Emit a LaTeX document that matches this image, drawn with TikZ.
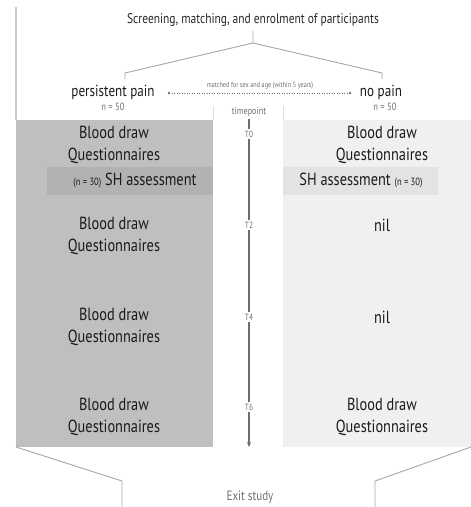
\documentclass[tikz,border=0pt]{standalone}
\usepackage{fontspec}
\setmainfont{PT Sans}[FakeStretch=0.82]
\definecolor{painGrey}{HTML}{BFBFBF}
\definecolor{painBand}{HTML}{B2B2B2}
\definecolor{ctrlGrey}{HTML}{F0F0F0}
\definecolor{ctrlBand}{HTML}{E3E3E3}
\definecolor{lineGrey}{HTML}{A6A6A6}
\definecolor{textMuted}{HTML}{6E6E6E}
\definecolor{textDark}{HTML}{1A1A1A}
\usetikzlibrary{arrows.meta, positioning}

\begin{document}
\begin{tikzpicture}[
    x=1pt, y=-1pt,
    group/.style={align=center, inner sep=0pt, font=\fontsize{17.5}{22.5}\selectfont, text=textDark},
    arm/.style={inner sep=1pt, font=\fontsize{16}{18}\selectfont, text=textDark},
    small/.style={inner sep=1pt, font=\fontsize{10.5}{12}\selectfont, text=textMuted},
    tlabel/.style={inner sep=2pt, font=\fontsize{9}{10}\selectfont, text=textMuted},
    link/.style={draw=lineGrey, line width=0.9pt},
    tline/.style={draw=textMuted, line width=1.4pt},
    arr/.style={-{Stealth[length=5pt, width=4pt]}, tline}
]
\useasboundingbox (0,0) rectangle (471,507);

% Panels
\fill[painGrey] (16,120) rectangle (213,447);
\fill[ctrlGrey] (283,120) rectangle (471,447);
\fill[painBand] (47,167) rectangle (213,195);
\fill[ctrlBand] (283,167) rectangle (438,195);
\draw[draw=black!20, line width=1.2pt] (16,7) -- (16,120);
\draw[draw=black!12] (213,106) -- (213,120) (283,106) -- (283,120);

% Screening
\node[font=\fontsize{14}{16}\selectfont, text=black!85] (title) at (253,20) {Screening, matching, and enrolment of participants};
\coordinate (stem) at (253,43);
\coordinate (forkL) at (125,73);
\coordinate (forkR) at (382,73);
\draw[link] (title.south -| stem) ++(0,1) -- (stem) -- (forkL) -- ++(0,6);
\draw[link] (stem) -- (forkR) -- ++(0,6);

% Groups
\node[arm] (pp) at (113,92) {persistent pain};
\node[arm] (np) at (381,92) {no pain};
\node[small] (ppn) at (113,107) {n = 50};
\node[small] (npn) at (385,107) {n = 50};
\coordinate (dotL) at (169,93);
\coordinate (dotR) at (350,93);
\fill[textMuted] (dotL) circle (1.4pt) (dotR) circle (1.4pt);
\draw[textMuted, dash pattern=on 1pt off 1.5pt, line width=0.5pt] (dotL) -- (dotR);
\node[font=\fontsize{7.5}{9}\selectfont, text=textMuted, inner sep=1pt] (match) at (260,86) {matched for sex and age (within 5 years)};

% Timeline
\node[small, font=\fontsize{10}{11}\selectfont] (tp) at (249,112) {timepoint};
\node[tlabel] (t0) at (249,134) {T0};
\node[tlabel] (t2) at (249,225) {T2};
\node[tlabel] (t4) at (249,317) {T4};
\node[tlabel] (t6) at (249,407) {T6};
\coordinate (tend) at (249,447);
\draw[tline] (tp.south) ++(0,1) -- (t0.north);
\draw[tline] (t0.south) -- (t2.north);
\draw[tline] (t2.south) -- (t4.north);
\draw[tline] (t4.south) -- (t6.north);
\draw[arr] (t6.south) -- (tend);

% Persistent pain visits
\node[group] (p0) at (114,145) {Blood draw\\Questionnaires};
\node[group] (psh) at (135,180) {{\fontsize{10.5}{12}\selectfont(n = 30)} SH assessment};
\node[group] (p2) at (114,236) {Blood draw\\Questionnaires};
\node[group] (p4) at (114,327) {Blood draw\\Questionnaires};
\node[group] (p6) at (114,417) {Blood draw\\Questionnaires};

% No pain visits
\node[group] (n0) at (382,145) {Blood draw\\Questionnaires};
\node[group] (nsh) at (361,180) {SH assessment {\fontsize{10.5}{12}\selectfont(n = 30)}};
\node[group] (n2) at (382,225) {nil};
\node[group] (n4) at (382,317) {nil};
\node[group] (n6) at (382,417) {Blood draw\\Questionnaires};

% Exit
\node[font=\fontsize{13.5}{15}\selectfont, text=textMuted] (exit) at (250,497) {Exit study};
\coordinate (exitL) at (122,481);
\coordinate (exitR) at (375,481);
\draw[link] (16,447) -- (exitL) -- (exitL |- 0,507);
\draw[link] (471,447) -- (exitR) -- (exitR |- 0,507);

\end{tikzpicture}
\end{document}
